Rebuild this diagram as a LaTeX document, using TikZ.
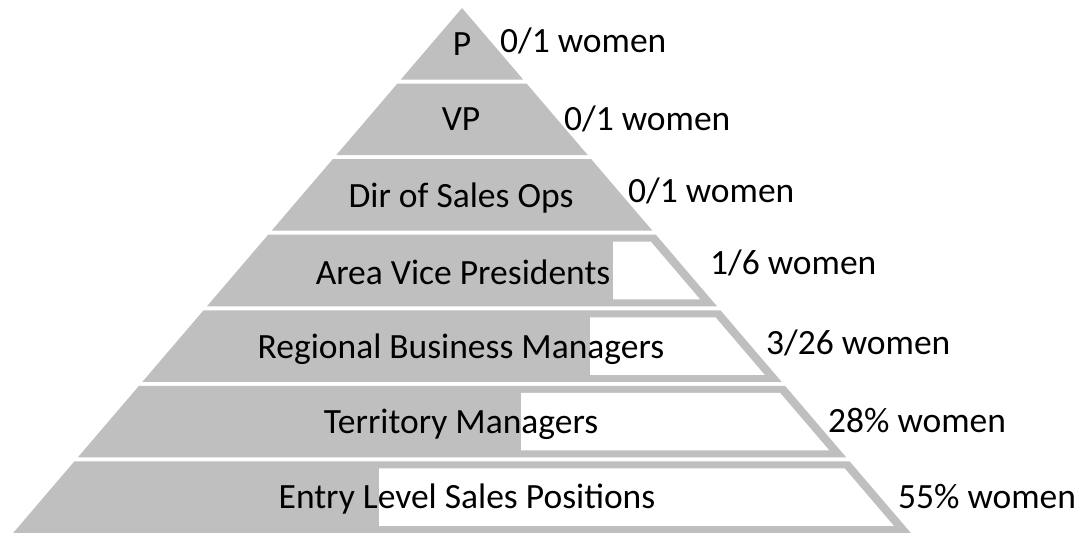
\documentclass[tikz,border=0pt]{standalone}
\usepackage{fontspec}
\setmainfont{Carlito}
\usetikzlibrary{positioning}

\definecolor{bandgray}{HTML}{BFBFBF}

\begin{document}
\begin{tikzpicture}[x=1pt, y=-1pt,
        every node/.style={font=\fontsize{35.5}{40}\selectfont, inner sep=0pt},
        title/.style={anchor=base},
        share/.style={anchor=base west}]
    \useasboundingbox (0,0) rectangle (1087,533);

    % 7 полос пирамиды, вершина в (462,8)
    \foreach \i in {0,...,6} {
        \pgfmathsetmacro{\yt}{8+75.57*\i}
        \pgfmathsetmacro{\yb}{\yt+71.57}
        \fill[bandgray] (462-0.855*\yt+6.84,\yt) -- (462+0.855*\yt-6.84,\yt)
            -- (462+0.855*\yb-6.84,\yb) -- (462-0.855*\yb+6.84,\yb) -- cycle;
    }

    % белая часть = доля женщин
    \foreach \i/\xl in {3/613, 4/590, 5/521, 6/379} {
        \pgfmathsetmacro{\yt}{15+75.57*\i}
        \pgfmathsetmacro{\yb}{\yt+57.57}
        \fill[white] (\xl,\yt) -- (462+0.855*\yt-6.84-11,\yt)
            -- (462+0.855*\yb-6.84-11,\yb) -- (\xl,\yb) -- cycle;
    }

    % названия уровней
    \node[title] (p)     at (462, 55)  {P};
    \node[title] (vp)    at (461, 130) {VP};
    \node[title] (dir)   at (461, 207) {Dir of Sales Ops};
    \node[title] (avp)   at (463, 284) {Area Vice Presidents};
    \node[title] (rbm)   at (461, 358) {Regional Business Managers};
    \node[title] (tm)    at (461, 433) {Territory Managers};
    \node[title] (entry) at (467, 508) {Entry Level Sales Positions};

    % подписи справа
    \node[share] (p-w)     at (500, 52)  {0/1 women};
    \node[share] (vp-w)    at (564, 130) {0/1 women};
    \node[share] (dir-w)   at (628, 202) {0/1 women};
    \node[share] (avp-w)   at (710, 274) {1/6 women};
    \node[share] (rbm-w)   at (766, 354) {3/26 women};
    \node[share] (tm-w)    at (828, 432) {28\% women};
    \node[share] (entry-w) at (898, 508) {55\% women};
\end{tikzpicture}
\end{document}
